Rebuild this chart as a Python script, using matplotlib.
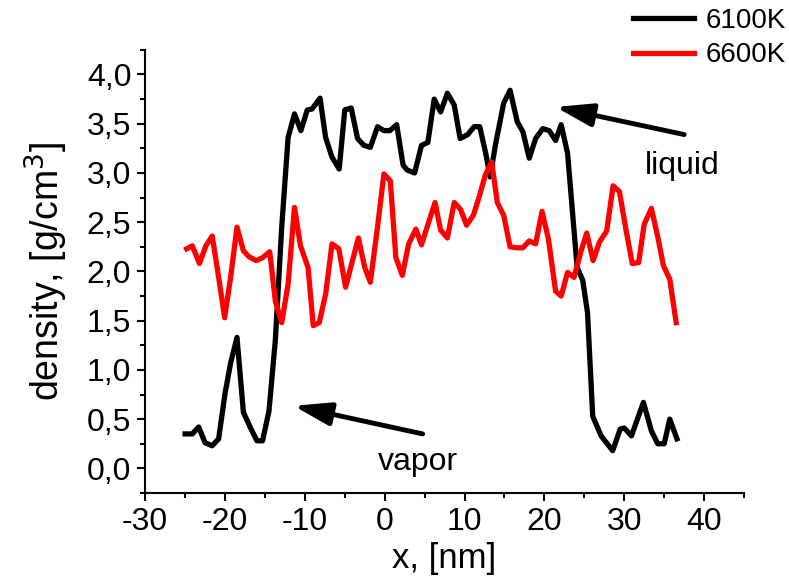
import matplotlib
matplotlib.use('Agg')
import matplotlib.pyplot as plt
from matplotlib.ticker import MultipleLocator, FuncFormatter

# density profiles
x_6100 = [-25.0, -24.1, -23.3, -22.5, -21.6, -20.8, -20.0, -19.3, -18.5, -17.7,
          -16.8, -16.0, -15.3, -14.5, -13.7, -12.9, -12.1, -11.3, -10.5, -9.7,
          -9.1, -8.1, -7.4, -6.6, -5.7, -5.0, -4.2, -3.4, -2.6, -1.8,
          -0.9, -0.1, 0.65, 1.5, 2.3, 2.8, 3.75, 4.6, 5.4, 6.2,
          7.0, 7.85, 8.7, 9.45, 10.4, 11.2, 11.9, 12.65, 13.2, 13.9,
          14.9, 15.7, 16.6, 17.3, 18.1, 18.9, 19.8, 20.6, 21.4, 22.1,
          22.9, 23.5, 24.1, 24.8, 25.4, 26.05, 27.1, 28.55, 29.5, 30.0,
          30.9, 32.4, 33.4, 34.2, 35.0, 35.7, 36.6]
rho_6100 = [0.35, 0.35, 0.42, 0.26, 0.23, 0.30, 0.76, 1.07, 1.33, 0.57,
            0.41, 0.28, 0.28, 0.58, 1.30, 2.45, 3.36, 3.60, 3.43, 3.64,
            3.65, 3.76, 3.36, 3.16, 3.04, 3.64, 3.66, 3.35, 3.28, 3.26,
            3.47, 3.43, 3.43, 3.49, 3.08, 3.03, 3.00, 3.28, 3.31, 3.75,
            3.62, 3.81, 3.69, 3.35, 3.39, 3.47, 3.47, 3.20, 2.96, 3.30,
            3.71, 3.84, 3.52, 3.42, 3.15, 3.35, 3.45, 3.43, 3.33, 3.49,
            3.20, 2.62, 2.04, 1.91, 1.58, 0.53, 0.33, 0.18, 0.40, 0.41,
            0.33, 0.67, 0.38, 0.25, 0.25, 0.50, 0.30]

x_6600 = [-24.8, -24.1, -23.2, -22.4, -21.6, -20.8, -20.05, -19.3, -18.5, -17.7,
          -17.0, -16.1, -15.3, -14.4, -13.7, -12.9, -12.1, -11.3, -10.55, -9.6,
          -8.95, -8.2, -7.4, -6.6, -5.75, -4.9, -4.1, -3.3, -2.5, -1.8,
          -0.9, -0.1, 0.7, 1.4, 2.2, 3.0, 3.9, 4.6, 5.5, 6.3,
          7.0, 7.85, 8.7, 9.5, 10.25, 11.1, 11.8, 12.6, 13.4, 14.1,
          14.9, 15.7, 16.5, 17.3, 18.1, 18.9, 19.7, 20.5, 21.4, 22.1,
          22.9, 23.7, 24.6, 25.3, 26.1, 26.9, 27.8, 28.6, 29.4, 30.2,
          31.0, 31.8, 32.5, 33.4, 34.2, 34.9, 35.7, 36.5]
rho_6600 = [2.23, 2.26, 2.08, 2.26, 2.36, 1.94, 1.53, 1.94, 2.45, 2.21,
            2.15, 2.11, 2.14, 2.20, 1.70, 1.48, 1.87, 2.65, 2.26, 2.04,
            1.45, 1.48, 1.77, 2.28, 2.23, 1.84, 2.09, 2.34, 2.04, 1.89,
            2.45, 2.99, 2.92, 2.14, 1.96, 2.28, 2.43, 2.27, 2.50, 2.70,
            2.42, 2.34, 2.70, 2.63, 2.47, 2.57, 2.75, 2.98, 3.11, 2.70,
            2.57, 2.25, 2.24, 2.24, 2.31, 2.28, 2.61, 2.33, 1.80, 1.75,
            1.99, 1.94, 2.21, 2.39, 2.11, 2.30, 2.41, 2.87, 2.81, 2.43,
            2.08, 2.09, 2.48, 2.64, 2.35, 2.06, 1.92, 1.48]

labels = ['6100K', '6600K']

plt.rcParams['font.family'] = ['Liberation Sans', 'DejaVu Sans']
plt.rcParams['axes.unicode_minus'] = False

fig = plt.figure(figsize=(7.89, 5.80), dpi=100)
ax = fig.add_axes([0.184, 0.150, 0.759, 0.764])

ax.plot(x_6100, rho_6100, color='black', lw=3.8, label=labels[0])
ax.plot(x_6600, rho_6600, color='red', lw=3.8, label=labels[1])

ax.set_xlim(-30, 45)
ax.set_ylim(-0.25, 4.25)
ax.xaxis.set_major_locator(MultipleLocator(10))
ax.xaxis.set_minor_locator(MultipleLocator(5))
ax.yaxis.set_major_locator(MultipleLocator(0.5))
ax.yaxis.set_minor_locator(MultipleLocator(0.25))
ax.yaxis.set_major_formatter(FuncFormatter(lambda v, p: f'{v:.1f}'.replace('.', ',')))

for side in ['top', 'right']:
    ax.spines[side].set_visible(False)
for side in ['left', 'bottom']:
    ax.spines[side].set_linewidth(1.5)
ax.tick_params(which='major', direction='out', length=6, width=1.5, labelsize=23, pad=4)
ax.tick_params(which='minor', direction='out', length=3.5, width=1.5)

ax.set_xlabel('x, [nm]', fontsize=25, labelpad=4)
ax.set_ylabel('density, [g/cm$^3$]', fontsize=27, labelpad=12)

# annotations
arrow = dict(arrowstyle='-|>,head_length=0.8,head_width=0.25', lw=3.5, color='black',
             mutation_scale=28, shrinkA=0, shrinkB=0)
ax.annotate('', xy=(21.4, 3.67), xytext=(37.5, 3.39), arrowprops=arrow)
ax.text(37.3, 3.07, 'liquid', fontsize=23, ha='center', va='center')
ax.annotate('', xy=(-11.4, 0.635), xytext=(4.75, 0.35), arrowprops=arrow)
ax.text(4.1, 0.06, 'vapor', fontsize=23, ha='center', va='center')

fig.legend(loc='upper right', bbox_to_anchor=(1.017, 1.015), frameon=False,
           fontsize=20, handlelength=2.2, handletextpad=0.4, labelspacing=0.3,
           borderaxespad=0.2)

plt.savefig('out.png', dpi=100)
plt.close(fig)
